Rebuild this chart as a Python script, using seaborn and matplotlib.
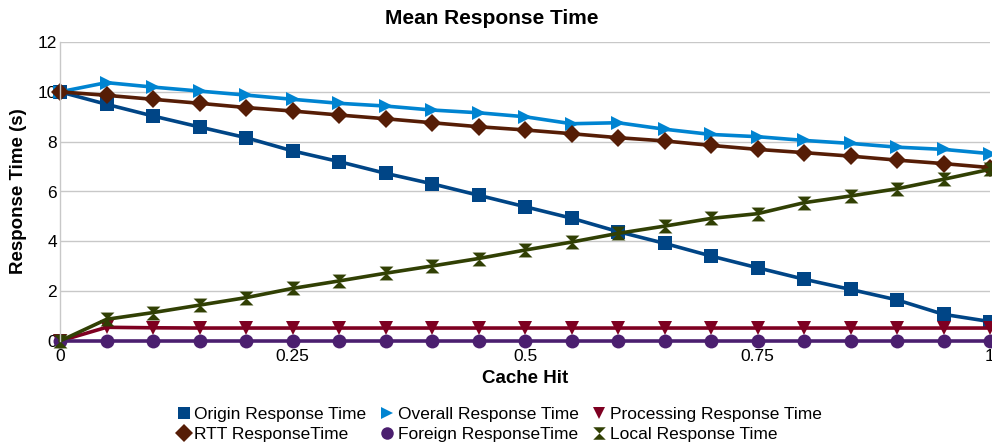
import numpy as np
import pandas as pd
import matplotlib
matplotlib.use("Agg")
import matplotlib.pyplot as plt
from matplotlib.path import Path
import seaborn as sns

cache_hit = [0, 0.05, 0.1, 0.15, 0.2, 0.25, 0.3, 0.35, 0.4, 0.45, 0.5,
             0.55, 0.6, 0.65, 0.7, 0.75, 0.8, 0.85, 0.9, 0.95, 1.0]
origin = [10, 9.5, 9.03, 8.59, 8.16, 7.63, 7.2, 6.73, 6.31, 5.85, 5.39,
          4.93, 4.39, 3.92, 3.41, 2.94, 2.48, 2.07, 1.65, 1.07, 0.78]
overall = [10, 10.37, 10.19, 10.03, 9.87, 9.7, 9.54, 9.43, 9.27, 9.16, 9.0,
           8.72, 8.76, 8.5, 8.29, 8.2, 8.05, 7.93, 7.78, 7.69, 7.52]
processing = [0, 0.55, 0.53, 0.52, 0.52, 0.52, 0.52, 0.52, 0.52, 0.52, 0.52,
              0.52, 0.52, 0.52, 0.52, 0.52, 0.52, 0.52, 0.52, 0.52, 0.52]
rtt = [10, 9.86, 9.7, 9.54, 9.37, 9.23, 9.07, 8.92, 8.76, 8.6, 8.47,
       8.32, 8.16, 8.03, 7.85, 7.69, 7.56, 7.42, 7.26, 7.12, 6.96]
foreign = [0] * 21
local = [0, 0.87, 1.14, 1.44, 1.74, 2.11, 2.41, 2.72, 3.01, 3.31, 3.65,
         3.97, 4.32, 4.61, 4.92, 5.11, 5.55, 5.82, 6.11, 6.49, 6.89]

series_names = ["Origin Response Time", "Overall Response Time", "Processing Response Time",
                "RTT ResponseTime", "Foreign ResponseTime", "Local Response Time"]
series_values = [origin, overall, processing, rtt, foreign, local]
y_ticks = [0, 2, 4, 6, 8, 10, 12]
x_ticks = [0, 0.25, 0.5, 0.75, 1]
x_tick_labels = ["0", "0.25", "0.5", "0.75", "1"]

sns.set_theme(style="white")
plt.rcParams['font.family'] = ['Liberation Sans', 'DejaVu Sans']
plt.rcParams['text.color'] = 'black'
plt.rcParams['axes.labelcolor'] = 'black'

hourglass = Path([(-1, 1), (1, 1), (0, 0), (1, -1), (-1, -1), (0, 0), (-1, 1)],
                 [Path.MOVETO, Path.LINETO, Path.LINETO, Path.LINETO, Path.LINETO,
                  Path.LINETO, Path.CLOSEPOLY])
colors = ["#004586", "#0084d1", "#7e0021", "#561d06", "#4b1f6f", "#314004"]
markers = ["s", ">", "v", "D", "o", hourglass]
msizes = [10, 10, 10, 9, 10, 10]

fig = plt.figure(figsize=(9.92, 4.44), dpi=100)
ax = fig.add_axes([60 / 992, 103 / 444, 930 / 992, 299 / 444])

for name, vals, c, m, ms in zip(series_names, series_values, colors, markers, msizes):
    df = pd.DataFrame({"x": cache_hit, "y": vals})
    sns.lineplot(data=df, x="x", y="y", ax=ax, color=c, marker=m, markersize=ms,
                 markeredgewidth=0, linewidth=2.6, label=name, clip_on=False)

ax.set_xlim(0, 1)
ax.set_ylim(0, 12)
ax.set_yticks(y_ticks)
ax.set_xticks(x_ticks)
ax.set_xticklabels(x_tick_labels)
ax.tick_params(axis="both", labelsize=12.5, length=0, colors="black")
ax.tick_params(axis="x", pad=6)
ax.tick_params(axis="y", pad=2)
ax.grid(axis="y", color="#c8c8c8", linewidth=1)
ax.set_axisbelow(True)
for s in ["top", "right", "bottom"]:
    ax.spines[s].set_visible(False)
ax.spines["left"].set_color("#c8c8c8")
ax.spines["left"].set_linewidth(1)

fig.text(492 / 992, 1 - 18 / 444, "Mean Response Time", fontsize=15, fontweight="bold",
         color="black", ha="center", va="center")
ax.set_xlabel("Cache Hit", fontsize=13.5, fontweight="bold", labelpad=4)
ax.set_ylabel("Response Time (s)", fontsize=13.5, fontweight="bold", labelpad=8)

handles, labels = ax.get_legend_handles_labels()
order = [0, 3, 1, 4, 2, 5]
ax.legend([handles[i] for i in order], [labels[i] for i in order],
          ncol=3, loc="upper center", bbox_to_anchor=(500 / 992, 44 / 444),
          bbox_transform=fig.transFigure, frameon=False, fontsize=12.5,
          handlelength=0.6, handletextpad=0.3, columnspacing=0.9,
          labelspacing=0.3, borderaxespad=0)
for h in ax.get_legend().legend_handles:
    h.set_linestyle("")
    h.set_markersize(9)

fig.savefig("out.png", dpi=100)
